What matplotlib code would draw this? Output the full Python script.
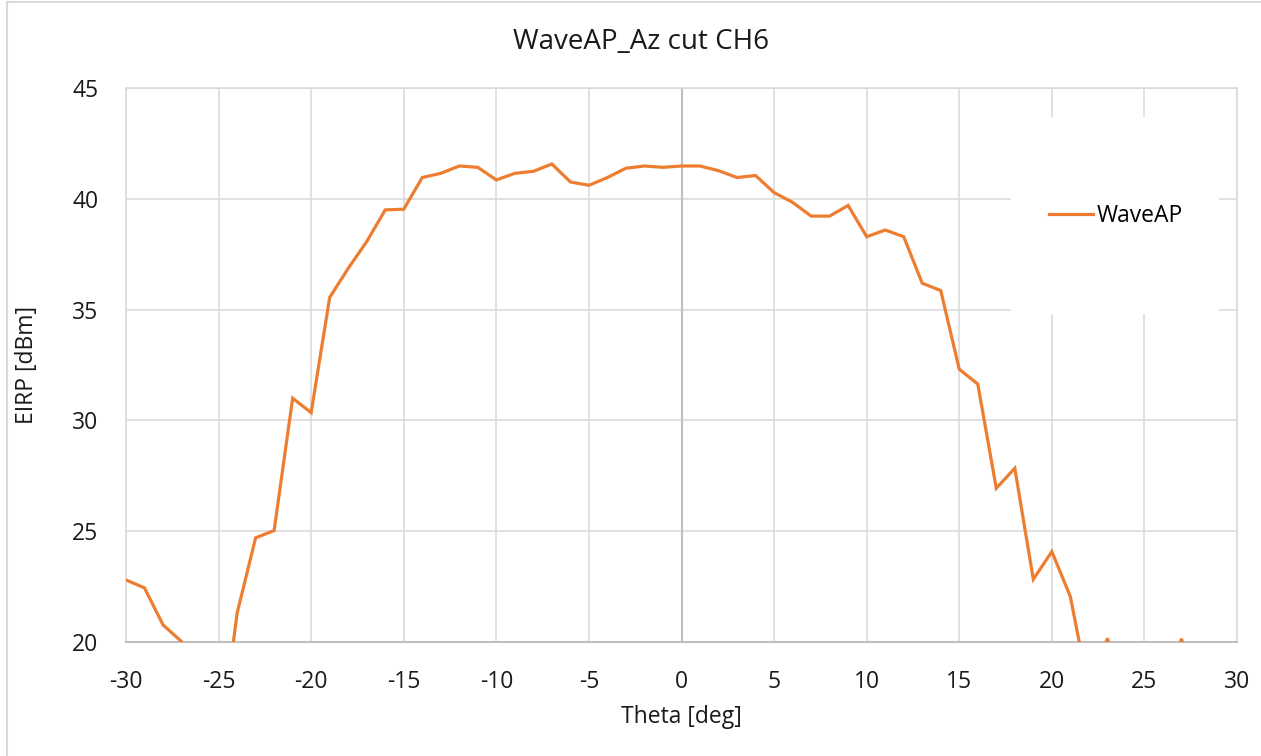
import matplotlib
matplotlib.use("Agg")
import matplotlib.pyplot as plt
from matplotlib.patches import Rectangle
from matplotlib.lines import Line2D

plt.rcParams['font.family'] = ['Open Sans', 'DejaVu Sans']
plt.rcParams['axes.unicode_minus'] = False

theta = list(range(-30, 31))
eirp = [22.8, 22.44, 20.77, 20.02, 16.0, 14.8, 21.3, 24.7, 25.03, 31.0,
        30.35, 35.55, 36.86, 38.07, 39.5, 39.53, 40.96, 41.15, 41.48, 41.42,
        40.85, 41.15, 41.24, 41.57, 40.76, 40.61, 40.96, 41.38, 41.48, 41.42,
        41.48, 41.48, 41.27, 40.96, 41.05, 40.28, 39.84, 39.22, 39.22, 39.7,
        38.29, 38.59, 38.29, 36.19, 35.86, 32.31, 31.64, 26.94, 27.84, 22.83,
        24.08, 22.05, 17.78, 20.17, 17.0, 16.0, 17.0, 20.15, 17.0, 16.0, 15.0]
series_name = "WaveAP"
title = "WaveAP_Az cut CH6"
xlabel = "Theta [deg]"
ylabel = "EIRP [dBm]"

W, H = 1261, 756
fig = plt.figure(figsize=(W / 100, H / 100), dpi=100)
ax = fig.add_axes([126 / W, 1 - 642 / H, (1237 - 126) / W, (642 - 88) / H])

grid_c = "#d9d9d9"
axis_c = "#bfbfbf"
orange = "#ED7D31"
text_c = "#1a1a1a"

ax.plot(theta, eirp, color=orange, lw=2.3, zorder=4, solid_joinstyle='miter')
ax.set_xlim(-30, 30)
ax.set_ylim(20, 45)
ax.set_xticks(range(-30, 31, 5))
ax.set_yticks(range(20, 46, 5))
ax.grid(True, color=grid_c, lw=1.1, zorder=0)
ax.set_axisbelow(True)
for s in ['left', 'right', 'top']:
    ax.spines[s].set_color(grid_c)
    ax.spines[s].set_linewidth(1.1)
ax.spines['bottom'].set_color(axis_c)
ax.spines['bottom'].set_linewidth(1.5)
ax.axvline(0, color=axis_c, lw=1.5, zorder=1)
ax.tick_params(axis='x', length=0, labelsize=16.5, colors=text_c, pad=20)
ax.tick_params(axis='y', length=0, labelsize=16.5, colors=text_c, pad=20)

fig.text(641 / W, 1 - 42 / H, title, fontsize=20, color=text_c,
         ha='center', va='center')
ax.set_xlabel(xlabel, fontsize=16.5, labelpad=8, color=text_c)
ax.set_ylabel(ylabel, fontsize=16.5, labelpad=24, color=text_c)

# legend background (covers gridlines)
ax.add_patch(Rectangle((0.7966, 0.592), 0.9838 - 0.7966, 0.9477 - 0.592,
                       transform=ax.transAxes, facecolor="white",
                       edgecolor="none", zorder=2))
leg = ax.legend([series_name], loc='center left',
                bbox_to_anchor=((1049 - 126) / 1111, (642 - 215.7) / 554),
                frameon=False, borderpad=0, borderaxespad=0,
                handlelength=1.9, handletextpad=0.2, fontsize=16.5)
leg.set_zorder(5)

# outer chart border (left and top visible)
fig.add_artist(Line2D([7 / W, 7 / W], [0, 1 - 2 / H], color=grid_c, lw=1.5,
                      transform=fig.transFigure))
fig.add_artist(Line2D([7 / W, 1], [1 - 2 / H, 1 - 2 / H], color=grid_c, lw=1.5,
                      transform=fig.transFigure))

fig.savefig("out.png", dpi=100, facecolor="white")
